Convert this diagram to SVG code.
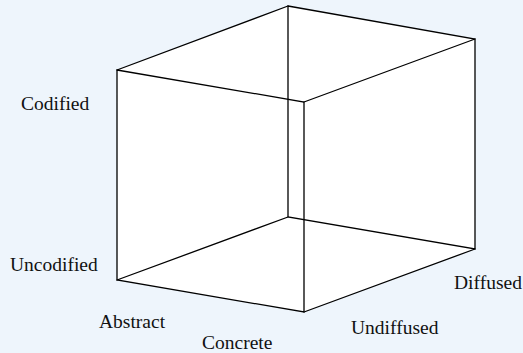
<svg xmlns="http://www.w3.org/2000/svg" width="523" height="353" viewBox="0 0 523 353">
  <style>
    .edge { stroke: #000; stroke-width: 1.3; fill: none; stroke-linecap: round; }
    .lbl { font-family: "Liberation Serif", "Times New Roman", serif; font-size: 19.5px; fill: #111; }
  </style>
  <rect x="0" y="0" width="523" height="353" fill="#eef5fc"/>
  <g id="cube">
    <polygon points="117,70 288,6 475,39 475,249 304,312 117,280" fill="#ffffff"/>
  </g>
  <g id="edges">
    <polygon class="edge" points="288,6 475,39 475,249 288,217"/>
    <polygon class="edge" points="117,70 304,102 304,312 117,280"/>
    <line class="edge" x1="117" y1="70" x2="288" y2="6"/>
    <line class="edge" x1="304" y1="102" x2="475" y2="39"/>
    <line class="edge" x1="117" y1="280" x2="288" y2="217"/>
    <line class="edge" x1="304" y1="312" x2="475" y2="249"/>
  </g>
  <g id="labels">
    <text class="lbl" x="21" y="110">Codified</text>
    <text class="lbl" x="10" y="271">Uncodified</text>
    <text class="lbl" x="99" y="328">Abstract</text>
    <text class="lbl" x="202" y="349">Concrete</text>
    <text class="lbl" x="351" y="334">Undiffused</text>
    <text class="lbl" x="454" y="289">Diffused</text>
  </g>
</svg>
